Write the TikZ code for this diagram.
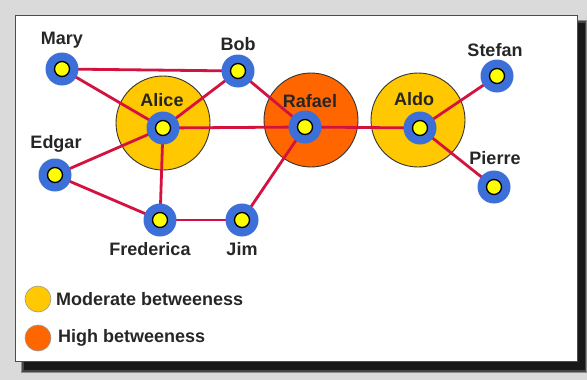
\documentclass[tikz,border=0pt]{standalone}
\usepackage{fontspec}
\setmainfont{Liberation Sans}
\definecolor{bg}{HTML}{DADADA}
\definecolor{nblue}{HTML}{3D6FD8}
\definecolor{nyel}{HTML}{FFFF00}
\definecolor{edgec}{HTML}{D3123F}
\definecolor{modyel}{HTML}{FFC800}
\definecolor{highor}{HTML}{FF6600}
\pgfdeclarelayer{back}
\pgfdeclarelayer{mid}
\pgfsetlayers{back,mid,main}
\tikzset{
  person/.style={circle, fill=nblue, minimum size=33pt, inner sep=0pt,
    path picture={\draw[fill=nyel, line width=1.3pt] (path picture bounding box.center) circle (7.5pt);}},
  group/.style={circle, draw=black!80, line width=0.9pt, minimum size=94pt, inner sep=0pt},
  lbl/.style={font=\bfseries\fontsize{18}{20}\selectfont, text=black!85, inner sep=0pt},
  link/.style={edgec, line width=2.8pt},
  legdot/.style={circle, draw=black!40, line width=0.6pt, minimum size=26pt, inner sep=0pt}
}
\begin{document}
\begin{tikzpicture}[x=1pt,y=-1pt]
\useasboundingbox (0,0) rectangle (587,380);
\begin{pgfonlayer}{back}
  \fill[bg] (0,0) rectangle (587,380);
  \fill[black, opacity=0.35] (21,20) rectangle (587,373);
  \fill[black, opacity=0.5] (22,21) rectangle (586,372);
  \fill[black!90] (24,23) rectangle (585,370);
  \draw[fill=white, draw=black!70, line width=0.8pt] (15,15) rectangle (577,361);
  \node[group, fill=modyel] (gAlice) at (163,123) {};
  \node[group, fill=highor] (gRafael) at (311,120) {};
  \node[group, fill=modyel] (gAldo) at (418,120) {};
\end{pgfonlayer}
\node[person] (mary) at (62,69) {};
\node[person] (bob) at (238,71) {};
\node[person] (alice) at (163,128) {};
\node[person] (rafael) at (305,127) {};
\node[person] (aldo) at (420,128) {};
\node[person] (stefan) at (497,76) {};
\node[person] (pierre) at (494,187) {};
\node[person] (edgar) at (55,175) {};
\node[person] (fred) at (160,220) {};
\node[person] (jim) at (242,220) {};
\begin{pgfonlayer}{mid}
  \draw[link] (mary.center) -- (bob.center);
  \draw[link] (mary.center) -- (alice.center);
  \draw[link] (alice.center) -- (bob.center);
  \draw[link] (alice.center) -- (edgar.center);
  \draw[link] (alice.center) -- (fred.center);
  \draw[link] (alice.center) -- (rafael.center);
  \draw[link] (edgar.center) -- (fred.center);
  \draw[link] (fred.center) -- (jim.center);
  \draw[link] (jim.center) -- (rafael.center);
  \draw[link] (bob.center) -- (rafael.center);
  \draw[link] (rafael.center) -- (aldo.center);
  \draw[link] (aldo.center) -- (stefan.center);
  \draw[link] (aldo.center) -- (pierre.center);
\end{pgfonlayer}
\node[lbl] (tmary) at (62,40) {Mary};
\node[lbl] (tbob) at (238,44) {Bob};
\node[lbl] (talice) at (162,100) {Alice};
\node[lbl] (trafael) at (310,101) {Rafael};
\node[lbl] (taldo) at (414,99) {Aldo};
\node[lbl] (tstefan) at (495,50) {Stefan};
\node[lbl] (tpierre) at (495,158) {Pierre};
\node[lbl] (tedgar) at (56,144) {Edgar};
\node[lbl] (tfred) at (150,249) {Frederica};
\node[lbl] (tjim) at (242,249) {Jim};
\node[legdot, fill=modyel] (lmod) at (38,299) {};
\node[legdot, fill=highor] (lhigh) at (38,338) {};
\node[lbl, anchor=west] (tmod) at (56,299) {Moderate betweeness};
\node[lbl, anchor=west] (thigh) at (58,338) {High betweeness};
\end{tikzpicture}
\end{document}
